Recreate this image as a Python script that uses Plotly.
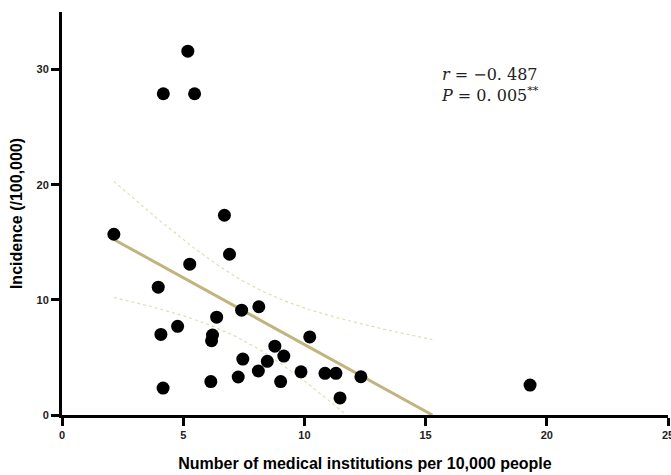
import numpy as np
import plotly.graph_objects as go

# Data
institutions = [2.14, 5.19, 4.18, 5.47, 6.70, 6.91, 5.27, 3.97, 4.08, 4.77, 4.17,
                6.21, 6.17, 6.38, 7.41, 8.12, 7.46, 7.27, 6.14, 8.10, 8.47, 8.78,
                9.15, 9.02, 9.86, 10.22, 10.85, 11.30, 11.47, 12.33, 19.31]
incidence = [15.7, 31.6, 27.9, 27.9, 17.35, 13.96, 13.1, 11.1, 7.0, 7.7, 2.34,
             6.94, 6.45, 8.5, 9.1, 9.4, 4.86, 3.3, 2.9, 3.82, 4.66, 5.98,
             5.12, 2.9, 3.75, 6.78, 3.62, 3.62, 1.48, 3.32, 2.6]
x_ticks = [0, 5, 10, 15, 20, 25]
y_ticks = [0, 10, 20, 30]
t_crit = 2.045  # t(0.975, df=29)

x = np.array(institutions)
y = np.array(incidence)
n = len(x)
slope, intercept = np.polyfit(x, y, 1)
x_end = min(x.max(), -intercept / slope)
xf = np.linspace(x.min(), x_end, 200)
yf = intercept + slope * xf
resid = y - (intercept + slope * x)
s = np.sqrt(np.sum(resid ** 2) / (n - 2))
sxx = np.sum((x - x.mean()) ** 2)
half = t_crit * s * np.sqrt(1.0 / n + (xf - x.mean()) ** 2 / sxx)
upper = yf + half
lower = yf - half
lower_mask = lower >= 0

fig = go.Figure()
ci_style = dict(color="#E2DDB2", width=1.2, dash="dot")
fig.add_trace(go.Scatter(x=xf, y=upper, mode="lines", line=ci_style, hoverinfo="skip"))
fig.add_trace(go.Scatter(x=xf[lower_mask], y=lower[lower_mask], mode="lines", line=ci_style, hoverinfo="skip"))
fig.add_trace(go.Scatter(x=xf, y=yf, mode="lines", line=dict(color="#C2B47E", width=3), hoverinfo="skip"))
fig.add_trace(go.Scatter(x=x, y=y, mode="markers",
                         marker=dict(color="black", size=13, line=dict(width=0)),
                         cliponaxis=False))

fig.add_annotation(x=15.55, y=28.7, xref="x", yref="y", xanchor="left", yanchor="middle",
                   showarrow=False, align="left",
                   text="<i>r</i> = −0. 487<br><i>P</i> = 0. 005<sup>**</sup>",
                   font=dict(family="DejaVu Serif, Liberation Serif, serif", size=16, color="#222222"))

axis_common = dict(showline=True, linecolor="black", linewidth=3, ticks="outside",
                   ticklen=8, tickwidth=3, tickcolor="black", showgrid=False, zeroline=False,
                   automargin=False, ticklabeloverflow="allow",
                   tickfont=dict(family="Liberation Sans, Arial, sans-serif", size=11, color="#222222", weight="bold"),
                   title_font=dict(family="Liberation Sans, Arial, sans-serif", size=16, color="black", weight="bold"))
fig.update_xaxes(range=[0, 25], tickvals=x_ticks, ticktext=[str(v) for v in x_ticks],
                 title_text="Number of medical institutions per 10,000 people", title_standoff=18,
                 **axis_common)
fig.update_yaxes(range=[0, 35], tickvals=y_ticks, ticktext=[str(v) for v in y_ticks],
                 title_text="Incidence (/100,000)", title_standoff=10, **axis_common)
fig.update_layout(width=671, height=475, showlegend=False,
                  plot_bgcolor="white", paper_bgcolor="white",
                  margin=dict(l=62, r=3, t=12, b=60))
fig.write_html("out.html", config={"displayModeBar": False},
               post_script="document.body.style.margin='0';document.body.style.overflow='hidden';")
